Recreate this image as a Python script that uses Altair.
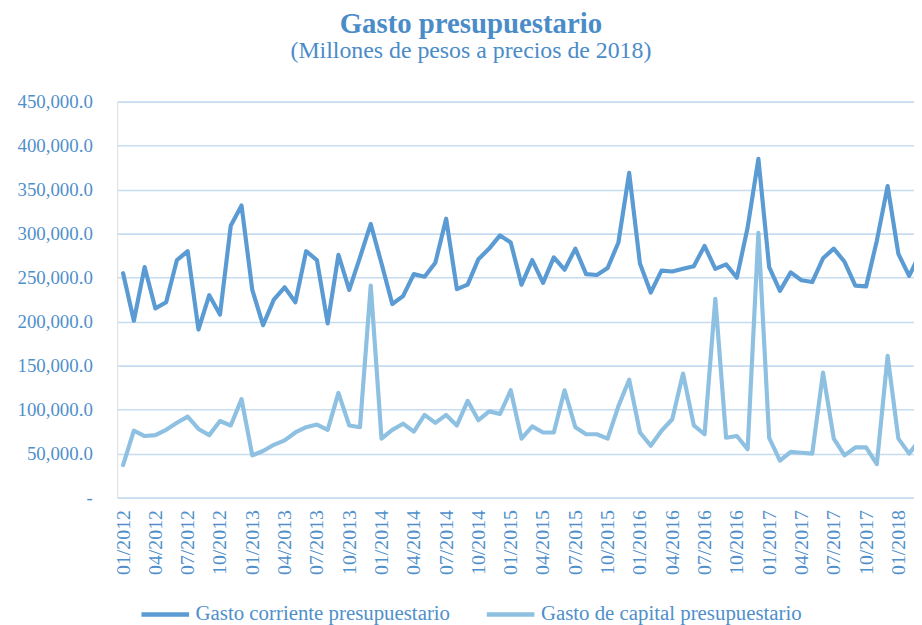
import altair as alt
import pandas as pd

tick_labels = [
    "01/2012", "04/2012", "07/2012", "10/2012",
    "01/2013", "04/2013", "07/2013", "10/2013",
    "01/2014", "04/2014", "07/2014", "10/2014",
    "01/2015", "04/2015", "07/2015", "10/2015",
    "01/2016", "04/2016", "07/2016", "10/2016",
    "01/2017", "04/2017", "07/2017", "10/2017",
    "01/2018",
]

# Gasto corriente presupuestario (miles de millones -> * 1000), monthly from 01/2012
corriente_k = [
    255, 201, 262, 215, 222, 270, 280, 191, 230, 208, 309, 332,
    236, 196, 225, 239, 222, 280, 270, 198, 276, 236, 273, 311,
    266, 220, 229, 254, 251, 267, 317, 237, 242, 271, 283, 298,
    290, 242, 270, 244, 273, 259, 283, 254, 253, 261, 290, 369,
    266, 233, 258, 257, 260, 263, 286, 260, 265, 250, 307, 385,
    262, 235, 256, 247, 245, 272, 283, 268, 241, 240, 292, 354,
    277, 252, 277,
]

# Gasto de capital presupuestario
capital_k = [
    37, 76, 70, 71, 77, 85, 92, 78, 71, 87, 82, 112,
    48, 53, 60, 65, 74, 80, 83, 77, 119, 82, 80, 241,
    67, 77, 84, 75, 94, 85, 94, 82, 110, 88, 98, 95,
    122, 67, 81, 74, 74, 122, 80, 72, 72, 67, 104, 134,
    74, 59, 76, 89, 141, 82, 72, 226, 68, 70, 55, 301,
    68, 42, 52, 51, 50, 142, 67, 48, 57, 57, 38, 161,
    67, 50, 66,
]

series_names = ["Gasto corriente presupuestario", "Gasto de capital presupuestario"]
series_colors = ["#5b9bd3", "#8ec0e2"]

n = len(corriente_k)
df = pd.DataFrame({
    "idx": list(range(n)) * 2,
    "valor": [v * 1000 for v in corriente_k] + [v * 1000 for v in capital_k],
    "serie": [series_names[0]] * n + [series_names[1]] * n,
})

label_js = "[" + ",".join("'" + t + "'" for t in tick_labels) + "]"
text_color = "#4f8fca"
serif = "Liberation Serif"

chart = alt.Chart(df).mark_line(
    strokeWidth=4.2, strokeJoin="round", strokeCap="round", clip=True
).encode(
    x=alt.X(
        "idx:Q",
        scale=alt.Scale(domain=[-0.55, 73.45], nice=False, zero=False),
        axis=alt.Axis(
            values=list(range(0, 3 * len(tick_labels), 3)),
            labelExpr=label_js + "[round(datum.value/3)]",
            labelAngle=270,
            labelFont=serif,
            labelFontSize=20,
            labelColor=text_color,
            labelPadding=12,
            domain=False,
            ticks=False,
            grid=False,
            title=None,
            labelOverlap=False,
            labelBound=False,
            labelFlush=False,
        ),
    ),
    y=alt.Y(
        "valor:Q",
        scale=alt.Scale(domain=[0, 450000], nice=False),
        axis=alt.Axis(
            values=list(range(0, 450001, 50000)),
            labelExpr="datum.value == 0 ? '-\u00a0\u00a0\u00a0' : format(datum.value, ',.1f')",
            labelFont=serif,
            labelFontSize=19,
            labelColor=text_color,
            labelPadding=25,
            domain=False,
            ticks=False,
            grid=True,
            gridColor="#c8dcef",
            gridWidth=1.6,
            title=None,
        ),
    ),
    color=alt.Color(
        "serie:N",
        scale=alt.Scale(domain=series_names, range=series_colors),
        legend=alt.Legend(
            orient="none",
            legendX=22,
            legendY=490,
            direction="horizontal",
            symbolType="stroke",
            symbolSize=2304,
            symbolStrokeWidth=4.5,
            labelFont=serif,
            labelFontSize=21,
            labelColor=text_color,
            labelOffset=4,
            labelLimit=0,
            columnPadding=27,
            padding=0,
            title=None,
        ),
    ),
).properties(
    width=803,
    height=399,
    autosize=alt.AutoSizeParams(type="none"),
    padding={"left": 110, "top": 92, "right": 0, "bottom": 126},
    title=alt.TitleParams(
        text="Gasto presupuestario",
        subtitle="(Millones de pesos a precios de 2018)",
        font=serif,
        fontSize=29,
        fontWeight="bold",
        color="#4a8cc8",
        subtitleFont=serif,
        subtitleFontSize=24,
        subtitleColor="#4a8cc8",
        subtitlePadding=0,
        anchor="middle",
        dx=-45,
        offset=30,
    ),
).configure_view(stroke=None).configure(
    background="white", font=serif
).configure_axis(labelFont=serif).configure_legend(labelFont=serif)

chart.save("out.html", embed_options={"renderer": "svg", "actions": False})
